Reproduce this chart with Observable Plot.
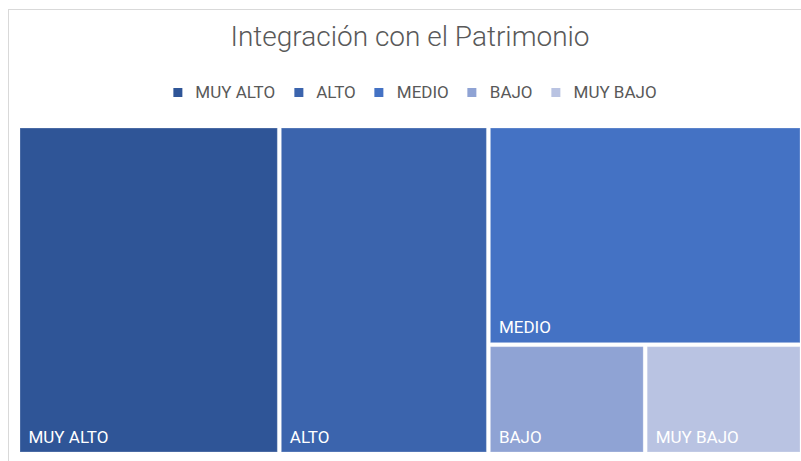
<!DOCTYPE html>
<html>
<head>
<meta charset="utf-8">
<script src="https://cdn.jsdelivr.net/npm/d3@7"></script>
<script src="https://cdn.jsdelivr.net/npm/@observablehq/plot@0.6"></script>
<style>
  html, body { margin: 0; padding: 0; background: #fff; }
  #chart { position: relative; width: 801px; height: 461px; overflow: hidden; font-family: Roboto, "Open Sans", sans-serif; }
  #frame { position: absolute; left: 8px; top: 9px; width: 900px; height: 600px; border: 1px solid #d9d9d9; box-sizing: border-box; pointer-events: none; z-index: 2; }
  #head { position: relative; height: 128px; }
  #title { position: absolute; left: 410px; top: 23px; transform: translateX(-50%); white-space: nowrap; font-size: 28px; line-height: 28px; font-weight: 300; color: #595959; }
  #legend { position: absolute; left: 415px; top: 84px; transform: translateX(-50%); white-space: nowrap; display: flex; align-items: center; font-size: 17px; line-height: 17px; color: #595959; }
  .item { display: flex; align-items: center; margin-right: 19px; }
  .item:last-child { margin-right: 0; }
  .sw { width: 9px; height: 9px; margin-right: 13px; }
  #plot svg { display: block; }
</style>
</head>
<body>
<div id="chart">
  <div id="frame"></div>
  <div id="head">
    <div id="title">Integración con el Patrimonio</div>
    <div id="legend"></div>
  </div>
  <div id="plot"></div>
</div>
<script>
// Levels and how many responses fall in each one
const levels = ["MUY ALTO", "ALTO", "MEDIO", "BAJO", "MUY BAJO"];
const counts = [50, 40, 40, 10, 10];
const colors = ["#2F5597", "#3B64AD", "#4472C4", "#8FA3D4", "#B9C3E2"];

const W = 780, H = 324;

const root = d3.hierarchy({children: levels.map((name, i) => ({name, value: counts[i]}))})
  .sum(d => d.value || 0)
  .sort((a, b) => b.value - a.value);

// Square-ish tiles: each big level gets its own full-height column
d3.treemap()
  .tile(d3.treemapSquarify.ratio(1))
  .size([W, H])
  .paddingInner(4)
  .round(false)(root);

const leaves = root.leaves().map(d => ({
  name: d.data.name,
  x0: d.x0, x1: d.x1, y0: d.y0, y1: d.y1
}));

// Legend swatches
const legend = document.getElementById("legend");
levels.forEach((name, i) => {
  const item = document.createElement("div");
  item.className = "item";
  const sw = document.createElement("div");
  sw.className = "sw";
  sw.style.background = colors[i];
  const label = document.createElement("span");
  label.textContent = name;
  item.append(sw, label);
  legend.append(item);
});

const plot = Plot.plot({
  width: 801,
  height: 333,
  marginLeft: 20,
  marginRight: 1,
  marginTop: 0,
  marginBottom: 9,
  style: {background: "transparent", fontFamily: "Roboto, 'Open Sans', sans-serif"},
  x: {domain: [0, W], axis: null},
  y: {domain: [0, H], reverse: true, axis: null},
  color: {domain: levels, range: colors},
  marks: [
    Plot.rect(leaves, {x1: "x0", x2: "x1", y1: "y0", y2: "y1", fill: "name", stroke: "#ffffff", strokeOpacity: 0.25, strokeWidth: 1}),
    Plot.text(leaves, {x: "x0", y: "y1", text: "name", dx: 8, dy: -10, textAnchor: "start", lineAnchor: "bottom", fill: "white", fontSize: 17})
  ]
});
document.getElementById("plot").append(plot);
</script>
</body>
</html>
